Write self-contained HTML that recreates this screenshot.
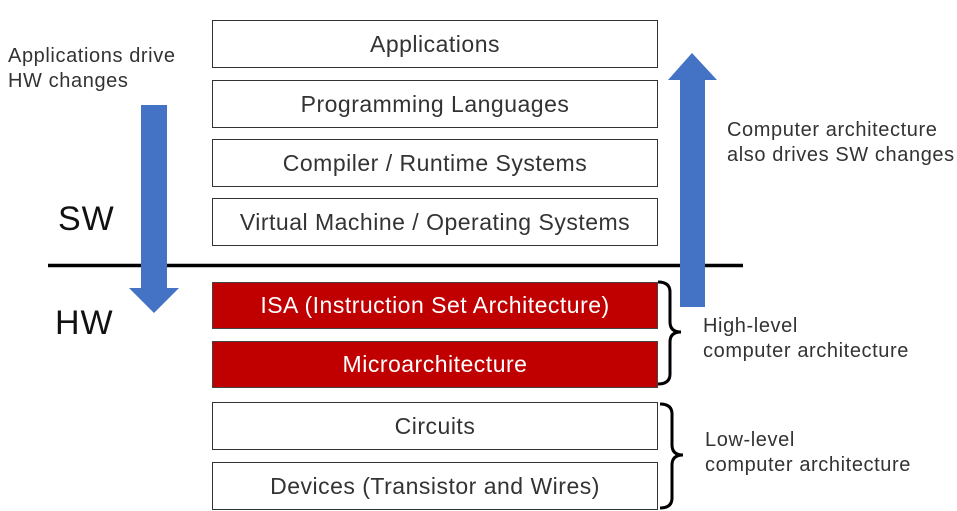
<!DOCTYPE html>
<html><head><style>
body{margin:0;width:957px;height:511px;background:#fff;overflow:hidden;position:relative;font-family:"Liberation Sans","NanumGothic",sans-serif;color:#222}
.b{position:absolute;left:212px;width:446px;border:1.5px solid #333;box-sizing:border-box;display:flex;align-items:center;justify-content:center;font-size:23px;letter-spacing:0.5px;background:#fff;white-space:nowrap;color:#333}
.r{background:#c00000;color:#fff;border-color:#444}
.t{position:absolute;font-size:20px;letter-spacing:0.6px;line-height:25px;color:#333;white-space:nowrap}
</style></head><body>
<div class="b" style="top:20px;height:48px">Applications</div>
<div class="b" style="top:80px;height:48px">Programming Languages</div>
<div class="b" style="top:139px;height:48px">Compiler / Runtime Systems</div>
<div class="b" style="top:198px;height:48px">Virtual Machine / Operating Systems</div>
<div class="b r" style="top:282px;height:47px">ISA (Instruction Set Architecture)</div>
<div class="b r" style="top:341px;height:47px">Microarchitecture</div>
<div class="b" style="top:402px;height:48px">Circuits</div>
<div class="b" style="top:462px;height:48px">Devices (Transistor and Wires)</div>
<svg width="957" height="511" style="position:absolute;left:0;top:0">
<line x1="48" y1="265.5" x2="743" y2="265.5" stroke="#000" stroke-width="3.5"/>
<polygon points="141,105 167,105 167,288 179,288 154,313 129,288 141,288" fill="#4472c4"/>
<polygon points="680,307 705,307 705,80 717,80 692,53 668,80 680,80" fill="#4472c4"/>
<path d="M658,282 Q670,282 670,292 L670,322 Q670,332 681,332 Q670,332 670,342 L670,374 Q670,384 658,384" fill="none" stroke="#000" stroke-width="3"/>
<path d="M660,404 Q672,404 672,414 L672,445 Q672,455 683,455 Q672,455 672,465 L672,498 Q672,508 660,508" fill="none" stroke="#000" stroke-width="3"/>
</svg>
<div class="t" style="left:8px;top:44px">Applications drive<br>HW changes</div>
<div class="t" style="left:58px;top:200px;font-size:34px;line-height:38px;color:#111;letter-spacing:1px">SW</div>
<div class="t" style="left:55px;top:304px;font-size:34px;line-height:38px;color:#111;letter-spacing:1px">HW</div>
<div class="t" style="left:727px;top:118px">Computer architecture<br>also drives SW changes</div>
<div class="t" style="left:703px;top:314px">High-level<br>computer architecture</div>
<div class="t" style="left:705px;top:428px">Low-level<br>computer architecture</div>
</body></html>
